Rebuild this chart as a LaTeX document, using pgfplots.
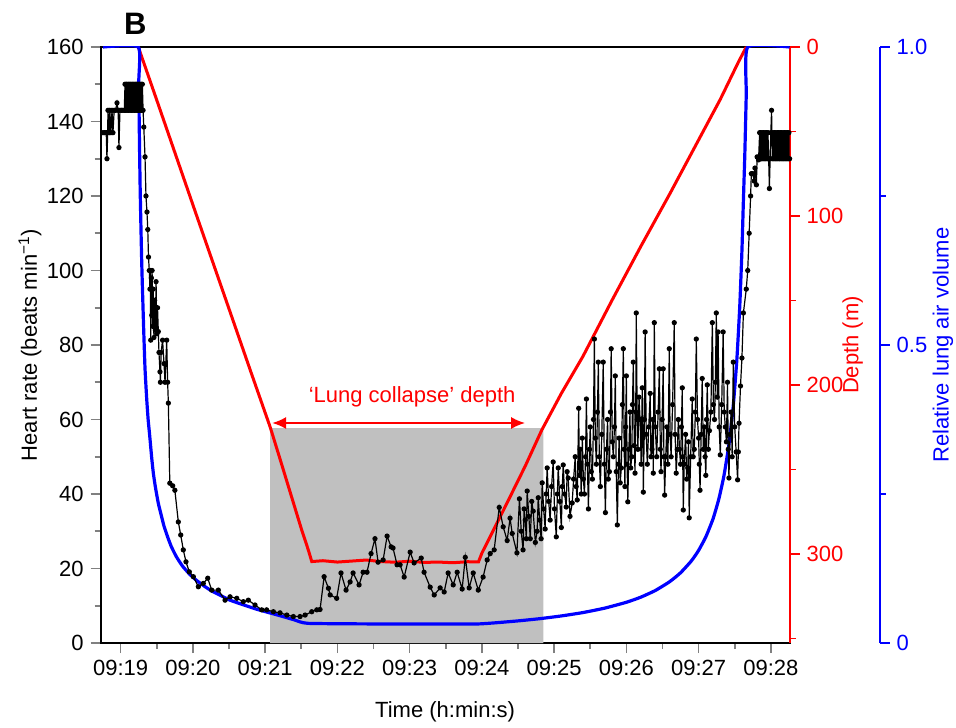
\documentclass[border=0pt]{standalone}
\usepackage{pgfplots}
\pgfplotsset{compat=1.18}
\usepackage{fontspec}
\setmainfont{Liberation Sans}
\usetikzlibrary{arrows.meta}
\definecolor{shade}{RGB}{192,192,192}
\newcommand{\fs}{\fontsize{11}{13}\selectfont}
\pgfplotsset{common/.style={
  scale only axis, width=344.5pt, height=298pt,
  xmin=-0.278, xmax=9.26,
  font=\fs, tick label style={font=\fs}, label style={font=\fs},
  /pgf/number format/assume math mode=true,
  tick align=outside, major tick length=5pt, minor tick length=3pt,
  tick style={line width=0.8pt},
}}
\begin{document}
\begin{tikzpicture}
\useasboundingbox (-50.3pt,-42pt) rectangle (427.7pt,321.5pt);
% Axis 1: heart-rate frame and shaded box
\begin{axis}[common, name=main,
  ymin=0, ymax=160, ytick={0,20,...,160}, minor y tick num=1,
  xtick={0,1,2,3,4,5,6,7,8,9},
  xticklabels={09:19,09:20,09:21,09:22,09:23,09:24,09:25,09:26,09:27,09:28},
  minor x tick num=1,
  xtick pos=left, ytick pos=left,
  axis line style={line width=1pt},
  xlabel={Time (h:min:s)},
  xlabel style={at={(axis description cs:0.5,-0.1158)}, anchor=center},
  ylabel={Heart rate (beats min\textsuperscript{−1})},
  ylabel style={at={(axis description cs:-0.1025,0.5)}, anchor=center},
]
\addplot[fill=shade, draw=none] coordinates {(2.07,0) (2.07,57.7) (5.85,57.7) (5.85,0)} \closedcycle;
\end{axis}
% Axis 2: depth (red)
\begin{axis}[common, axis x line=none, axis y line*=right,
  y dir=reverse, ymin=0, ymax=352.7,
  ytick={0,100,200,300}, minor ytick={50,150,250,350},
  y axis line style={-, red, line width=1pt},
  ytick style={red, line width=0.8pt},
  yticklabel style={red},
  ylabel={Depth (m)},
  ylabel style={red, at={(axis description cs:1.0914,0.5)}, anchor=center},
]
\addplot[red, line width=1.5pt] coordinates {
(0.244,0) (0.5,31.5) (1.053,100) (1.5,155) (1.8,192) (2.07,225) (2.2,243) (2.35,264) (2.5,285) (2.6,298) (2.645,304.5)
(2.8,304) (3.0,304.8) (3.2,304.2) (3.4,303.6) (3.6,304.5) (3.8,304.9) (4.0,304.3) (4.2,305) (4.4,304.8) (4.6,305.2) (4.8,304.6) (4.953,304.7)
(5.0,299.5) (5.3,274) (5.6,248) (5.83,226.6) (6.1,205) (6.4,183) (6.8,150) (7.2,118) (7.6,87) (8.0,55) (8.3,31) (8.55,9) (8.66,0)
};
\end{axis}
% Axis 3: relative lung air volume (blue)
\begin{axis}[common, width=389.5pt, xmax=10.506,
  axis x line=none, axis y line*=right,
  ymin=0, ymax=1, ytick={0,0.5,1}, yticklabels={0,0.5,1.0}, minor ytick={0.25,0.75},
  y axis line style={-, blue, line width=1pt},
  ytick style={blue, line width=0.8pt},
  yticklabel style={blue},
  ylabel={Relative lung air volume},
  ylabel style={blue, at={(axis description cs:1.0814,0.5)}, anchor=center},
]
\addplot[blue, line width=1.6pt, smooth, tension=0.3] coordinates {
(-0.245,1) (0.244,1) (0.25,0.94) (0.26,0.84) (0.27,0.76) (0.28,0.70) (0.29,0.645) (0.30,0.60) (0.32,0.52) (0.337,0.46)
(0.36,0.41) (0.38,0.375) (0.40,0.35) (0.43,0.31) (0.452,0.285) (0.48,0.262) (0.52,0.235) (0.56,0.215) (0.60,0.196) (0.65,0.178)
(0.70,0.162) (0.77,0.145) (0.85,0.13) (0.95,0.116) (1.05,0.105) (1.15,0.096) (1.25,0.088) (1.38,0.080) (1.51,0.072) (1.70,0.064)
(1.874,0.057) (2.05,0.051) (2.2,0.046) (2.4,0.039) (2.59,0.033) (3.5,0.032) (4.5,0.032) (4.95,0.032)
(5.2,0.034) (5.5,0.0371) (5.8,0.0408) (6.1,0.0454) (6.4,0.0511) (6.7,0.0585) (7.0,0.0683) (7.2,0.0769) (7.4,0.088) (7.6,0.1029)
(7.75,0.1178) (7.9,0.1377) (8.0,0.1553) (8.1,0.178) (8.2,0.2083) (8.28,0.2415) (8.35,0.28) (8.42,0.333) (8.48,0.398) (8.53,0.476)
(8.57,0.565) (8.60,0.658) (8.62,0.741) (8.64,0.82) (8.66,0.92) (8.68,1.0) (9.26,1.0)
};
\end{axis}
% Axis 4: heart rate data (black), on top
\begin{axis}[common, hide axis, ymin=0, ymax=160]
\addplot[black, line width=0.6pt, mark=*, mark size=1pt, mark options={solid}] coordinates {
(-0.245,137) (-0.22,137) (-0.20,137) (-0.19,130) (-0.18,137) (-0.176,143) (-0.16,137) (-0.15,143) (-0.135,137) (-0.12,143)
(-0.107,137) (-0.09,143) (-0.07,143) (-0.051,145) (-0.035,143) (-0.024,133) (-0.01,143) (0.01,143) (0.03,143) (0.05,143)
(0.06,150) (0.07,143) (0.08,150) (0.09,143) (0.10,150) (0.11,143) (0.12,150) (0.13,143) (0.14,150) (0.15,143)
(0.16,150) (0.17,143) (0.18,150) (0.19,143) (0.20,150) (0.21,143) (0.22,150) (0.23,143) (0.24,150) (0.25,143)
(0.26,150) (0.27,143) (0.28,150) (0.29,143) (0.30,150) (0.31,143)
(0.32,138.5) (0.337,130.5) (0.35,120) (0.364,115.7) (0.375,111) (0.385,103.6) (0.396,100) (0.405,95) (0.41,100) (0.416,81.3)
(0.425,98) (0.43,88) (0.435,100) (0.443,85) (0.45,95) (0.46,82) (0.47,92) (0.48,84) (0.49,97) (0.50,83)
(0.51,90) (0.521,83.6) (0.53,78) (0.544,72.8) (0.55,70) (0.56,78) (0.58,81.3) (0.60,75) (0.614,70) (0.637,81.3)
(0.65,70) (0.66,64.4) (0.68,42.9) (0.72,42.2) (0.75,41) (0.798,32.5) (0.831,29) (0.867,25) (0.904,21.8) (0.95,19.1)
(1.006,17.8) (1.075,15.1) (1.144,16) (1.205,17.4) (1.26,14.2) (1.352,14.2) (1.445,11.5) (1.514,12.4) (1.607,12) (1.698,11.1)
(1.767,11.5) (1.86,10.2) (1.953,8.9) (2.02,8.9) (2.114,8.4) (2.206,8.1) (2.30,7.5) (2.39,7.1) (2.483,7.1) (2.553,7.5)
(2.645,8.4) (2.715,8.9) (2.76,9) (2.816,17.8) (2.876,14.7) (2.90,12.9) (2.99,12) (3.05,18.8) (3.12,14.2) (3.176,16.4)
(3.217,18.8) (3.30,15.6) (3.356,19) (3.41,19) (3.466,24) (3.52,28) (3.563,21.7) (3.633,22.3) (3.688,28.7) (3.744,25.8)
(3.77,25.5) (3.826,21) (3.868,21) (3.924,17.7) (4.007,24.4) (4.062,21.5) (4.16,22.8) (4.20,19) (4.284,15) (4.34,12.9)
(4.422,14.8) (4.478,13.7) (4.533,18.8) (4.603,15.6) (4.658,19) (4.727,14.5) (4.77,23) (4.824,14.8) (4.88,18.8) (4.95,14.2)
(5.017,17.7) (5.073,22.3) (5.115,24) (5.17,25) (5.24,36.4) (5.295,31.2) (5.35,27.5) (5.39,33.5) (5.42,29.4) (5.485,24.2)
(5.52,38.7) (5.545,30) (5.57,25) (5.585,36) (5.60,33) (5.615,28) (5.627,40.8) (5.65,34) (5.67,28) (5.69,38)
(5.71,35.4) (5.74,27) (5.765,30) (5.78,39) (5.80,33) (5.82,28) (5.835,43) (5.855,36) (5.876,30.6) (5.89,40)
(5.904,47) (5.925,38) (5.945,33) (5.965,42) (5.987,48.6) (6.005,36) (6.03,28.5) (6.045,40) (6.057,47) (6.08,38)
(6.1,31) (6.113,42) (6.126,47.8) (6.145,40) (6.168,36.5) (6.18,46) (6.195,44.3) (6.22,34) (6.25,37.6) (6.27,44)
(6.292,50) (6.305,42) (6.32,38.4)
(6.34,63) (6.35,45) (6.36,52) (6.375,40) (6.39,55) (6.405,44) (6.42,40) (6.435,50) (6.447,65.5) (6.46,48)
(6.475,36) (6.49,52) (6.50,58) (6.515,46) (6.53,44) (6.545,60) (6.557,81.6) (6.57,55) (6.585,48) (6.60,62)
(6.612,75.4) (6.625,50) (6.64,42) (6.66,56) (6.68,75.4) (6.695,48) (6.71,35) (6.725,52) (6.74,60) (6.75,44)
(6.765,46) (6.78,62) (6.79,79) (6.805,54) (6.82,50) (6.835,58) (6.847,71.7) (6.86,46) (6.875,31.7) (6.89,48)
(6.90,55) (6.915,43) (6.93,47) (6.945,64) (6.958,79) (6.97,52) (6.98,42) (6.99,58) (7.00,71.7) (7.01,48)
(7.02,37.9) (7.035,52) (7.05,62) (7.06,47) (7.075,50) (7.085,64) (7.096,75.4) (7.11,53) (7.12,45.6) (7.13,62)
(7.137,88.6) (7.15,60) (7.16,52) (7.175,66) (7.19,60) (7.205,48) (7.22,68.5) (7.23,55) (7.235,40.5) (7.25,60)
(7.26,83.5) (7.275,56) (7.29,48) (7.31,58) (7.33,67) (7.34,50) (7.355,52) (7.365,60) (7.373,45.6) (7.387,86)
(7.40,58) (7.42,50) (7.44,62) (7.457,73.6) (7.47,52) (7.48,46) (7.495,60) (7.51,73.6) (7.52,50) (7.53,39.7)
(7.545,50) (7.56,58) (7.575,48) (7.594,79) (7.605,56) (7.62,50) (7.64,64) (7.663,86) (7.675,56) (7.69,45.6)
(7.705,52) (7.72,60) (7.735,52) (7.75,48) (7.762,58) (7.774,68.5) (7.78,50) (7.788,35.7) (7.80,48) (7.82,56)
(7.835,44) (7.85,47) (7.86,54) (7.87,33.6) (7.89,50) (7.912,65.5) (7.925,50) (7.94,52) (7.955,62) (7.968,81.6)
(7.985,60) (8.00,55) (8.01,48) (8.02,41) (8.035,56) (8.05,71) (8.065,52) (8.08,58) (8.09,50) (8.10,45)
(8.11,60) (8.12,69.3) (8.135,52) (8.15,57) (8.17,62) (8.19,86) (8.205,64) (8.22,60) (8.232,70) (8.245,88.6)
(8.258,66) (8.27,83.5) (8.285,58) (8.30,50.5) (8.32,64) (8.34,83.5) (8.355,62) (8.37,58) (8.385,54) (8.40,70)
(8.41,52) (8.42,44.3) (8.435,56) (8.45,62) (8.465,50) (8.48,75.4) (8.50,58) (8.52,51.3) (8.54,43.8) (8.55,51.3)
(8.56,59) (8.58,69) (8.60,76.5) (8.62,88.6) (8.66,95) (8.68,100) (8.70,110) (8.72,120) (8.73,126) (8.75,126)
(8.77,124) (8.78,127.5) (8.80,123) (8.81,130.5) (8.83,129.7) (8.845,137) (8.85,130) (8.86,137) (8.87,130) (8.88,137)
(8.89,130) (8.90,137) (8.91,130) (8.92,137) (8.93,130) (8.94,137) (8.95,130) (8.96,137) (8.97,130) (8.98,122)
(8.99,130) (9.00,137) (9.01,143) (9.02,130) (9.03,137) (9.04,130) (9.05,137) (9.06,130) (9.07,137) (9.08,130)
(9.09,137) (9.10,130) (9.11,137) (9.12,130) (9.13,137) (9.14,130) (9.15,137) (9.16,130) (9.17,137) (9.18,130)
(9.19,137) (9.20,130) (9.21,137) (9.22,130) (9.23,137) (9.24,130) (9.25,137) (9.26,130)
};
\draw[red, line width=1.1pt, {Latex[length=7pt,width=6pt]}-{Latex[length=7pt,width=6pt]}] (axis cs:2.095,59.06) -- (axis cs:5.6,59.06);
\node[red, font=\fs] at (axis cs:4.035,66) {‘Lung collapse’ depth};
\end{axis}
\node[anchor=base west, font=\bfseries\fontsize{15.5}{18}\selectfont] at (8.2pt,304pt) {B};
\end{tikzpicture}
\end{document}
